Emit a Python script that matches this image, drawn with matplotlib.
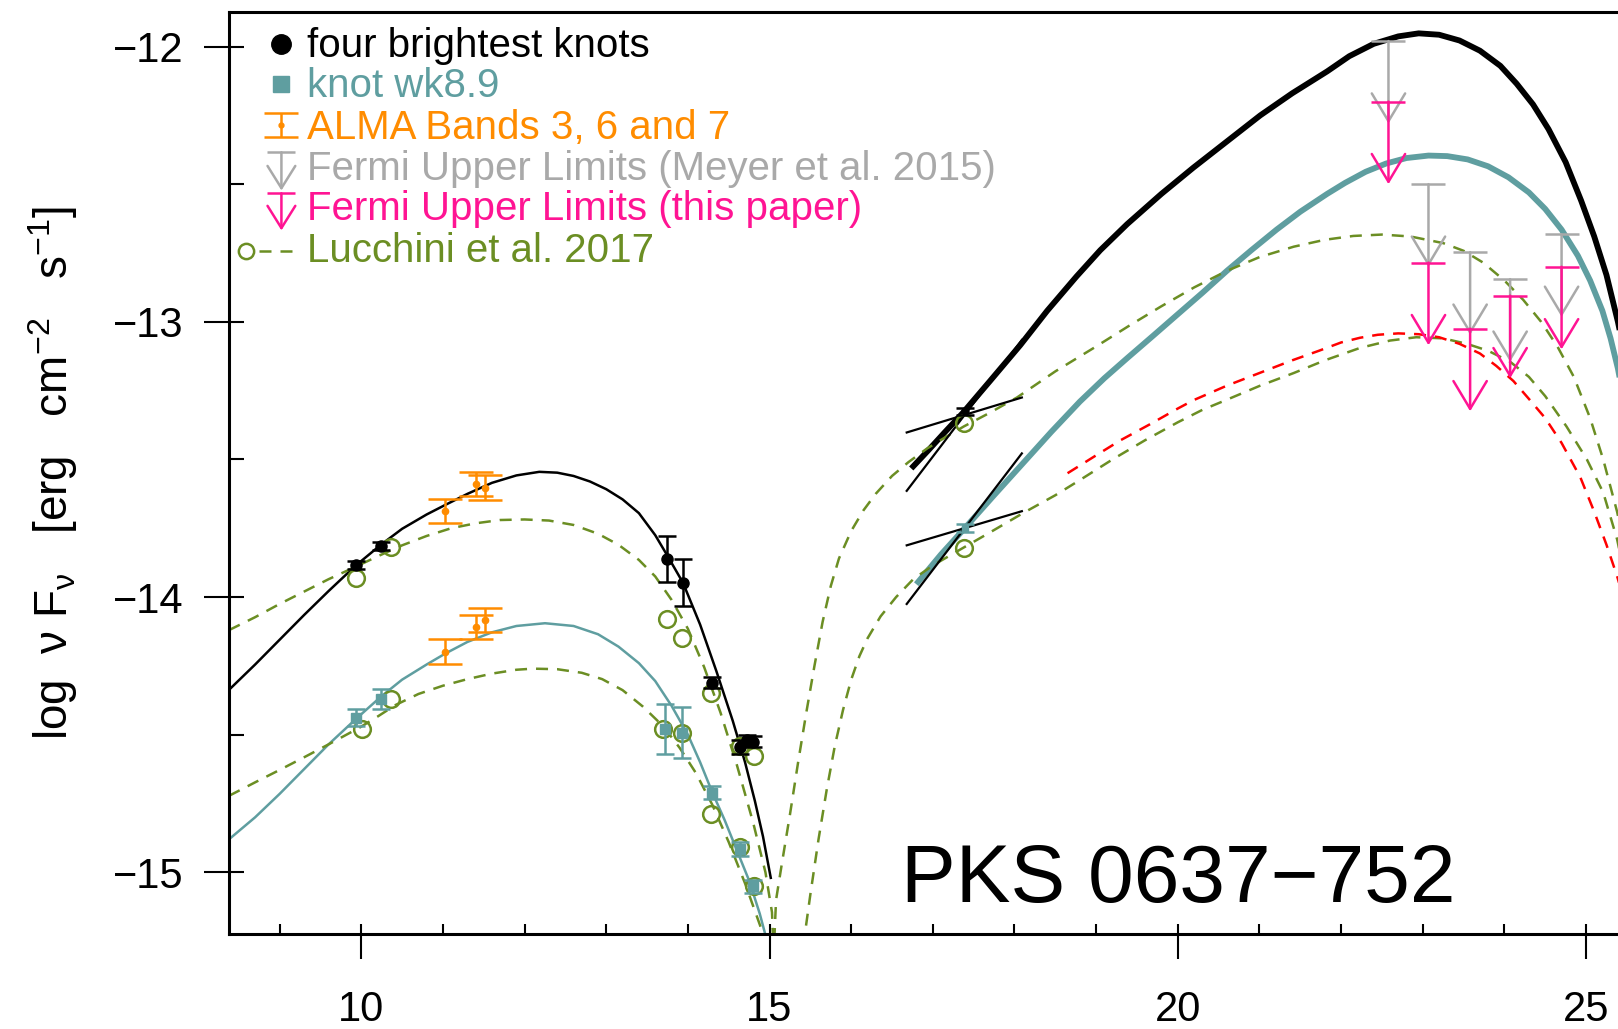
import matplotlib
matplotlib.use("Agg")
import matplotlib.pyplot as plt
from matplotlib.ticker import FixedLocator

plt.rcParams['font.family'] = ['Liberation Sans', 'DejaVu Sans']
plt.rcParams['mathtext.fontset'] = 'custom'
plt.rcParams['mathtext.rm'] = 'Liberation Sans'
plt.rcParams['mathtext.it'] = 'Liberation Sans:italic'

# colours (R names)
BLACK = 'black'
TEAL = '#5F9EA0'      # cadetblue
ORANGE = '#FF8C00'    # darkorange
GREY = '#A9A9A9'      # darkgray
PINK = '#FF1493'      # deeppink
GREEN = '#6B8E23'     # olivedrab
RED = 'red'

# ---- measured fluxes (log nu, log nuFnu) ----
knots_x = [9.93, 10.24, 13.74, 13.94, 14.29, 14.64, 14.72, 14.80]
knots_y = [-13.884, -13.815, -13.862, -13.948, -14.311, -14.545, -14.52, -14.525]
knots_err = [0.015, 0.015, 0.085, 0.086, 0.02, 0.025, 0.02, 0.02]

wk89_x = [9.93, 10.24, 13.72, 13.93, 14.29, 14.64, 14.80]
wk89_y = [-14.438, -14.369, -14.48, -14.492, -14.71, -14.915, -15.05]
wk89_err = [0.03, 0.036, 0.09, 0.093, 0.024, 0.024, 0.024]

xray_x = [17.39]
xray_knots_y = [-13.325]
xray_knots_err = [0.012]
xray_wk89_y = [-13.75]
xray_wk89_err = [0.015]

alma_x = [11.03, 11.40, 11.52]
alma_knots_y = [-13.686, -13.588, -13.602]
alma_wk89_y = [-14.198, -14.109, -14.084]
alma_err = [0.044, 0.043, 0.044]

fermi_x = [22.58, 23.07, 23.58, 24.07, 24.70]
fermi_meyer = [-11.98, -12.50, -12.747, -12.845, -12.682]
fermi_this = [-12.20, -12.785, -13.025, -12.905, -12.80]

# X-ray bowties: (x0, y0, x1, y1)
bowties = [
    (16.68, -13.402, 18.09, -13.275),
    (16.68, -13.614, 18.09, -13.066),
    (16.68, -13.812, 18.09, -13.688),
    (16.68, -14.025, 18.09, -13.478),
]

# Lucchini et al. 2017 points
luc_hi_x = [9.93, 10.37, 13.74, 13.925, 14.286, 14.637, 14.81, 17.38]
luc_hi_y = [-13.93, -13.819, -14.081, -14.148, -14.347, -14.54, -14.579, -13.368]
luc_lo_x = [10.01, 10.365, 13.69, 13.925, 14.286, 14.637, 14.81, 17.38]
luc_lo_y = [-14.478, -14.369, -14.478, -14.492, -14.788, -14.909, -15.048, -13.821]

# ---- model curves ----
sync_knots_x = [8.38, 8.7, 9.0, 9.3, 9.6, 9.93, 10.24, 10.5, 10.8, 11.03, 11.3,
                11.6, 11.9, 12.18, 12.4, 12.6, 12.8, 13.0, 13.2, 13.4, 13.6,
                13.74, 13.94, 14.15, 14.35, 14.55, 14.70, 14.82, 14.92, 15.015]
sync_knots_y = [-14.337, -14.245, -14.155, -14.065, -13.978, -13.886, -13.81,
                -13.752, -13.70, -13.665, -13.625, -13.585, -13.558, -13.545,
                -13.548, -13.56, -13.58, -13.608, -13.645, -13.695, -13.775,
                -13.845, -13.948, -14.10, -14.27, -14.45, -14.60, -14.74,
                -14.87, -15.02]

sync_wk89_x = [8.38, 8.7, 9.0, 9.3, 9.6, 9.93, 10.24, 10.5, 10.8, 11.03, 11.3,
               11.6, 11.9, 12.25, 12.6, 12.9, 13.15, 13.4, 13.6, 13.8, 14.0,
               14.15, 14.3, 14.45, 14.6, 14.75, 14.88, 14.97]
sync_wk89_y = [-14.88, -14.80, -14.715, -14.625, -14.535, -14.444, -14.362,
               -14.30, -14.245, -14.205, -14.163, -14.128, -14.105, -14.095,
               -14.105, -14.135, -14.18, -14.24, -14.305, -14.395, -14.50,
               -14.6, -14.71, -14.81, -14.92, -15.03, -15.15, -15.25]

ic_knots_x = [16.76, 16.95, 17.15, 17.37, 17.7, 18.07, 18.4, 18.76, 19.05,
              19.38, 19.8, 20.19, 20.6, 21.01, 21.4, 21.83, 22.1, 22.4, 22.7,
              22.95, 23.2, 23.45, 23.7, 23.95, 24.15, 24.35, 24.54, 24.75,
              24.94, 25.1, 25.25, 25.39, 25.6]
ic_knots_y = [-13.525, -13.465, -13.4, -13.33, -13.215, -13.085, -12.96,
              -12.835, -12.74, -12.645, -12.535, -12.44, -12.345, -12.25,
              -12.17, -12.09, -12.035, -11.99, -11.963, -11.952, -11.957,
              -11.978, -12.015, -12.07, -12.135, -12.21, -12.30, -12.42,
              -12.56, -12.69, -12.83, -13.0, -13.3]

ic_wk89_x = [16.82, 17.1, 17.39, 17.75, 18.1, 18.45, 18.8, 19.1, 19.38, 19.7,
             19.99, 20.3, 20.6, 20.9, 21.21, 21.5, 21.83, 22.05, 22.3, 22.55,
             22.8, 23.07, 23.3, 23.55, 23.8, 24.05, 24.3, 24.5, 24.7, 24.9,
             25.05, 25.2, 25.3, 25.39, 25.6]
ic_wk89_y = [-13.945, -13.845, -13.75, -13.63, -13.515, -13.4, -13.29, -13.205,
             -13.132, -13.05, -12.975, -12.895, -12.815, -12.74, -12.665, -12.6,
             -12.535, -12.495, -12.455, -12.425, -12.405, -12.396, -12.398,
             -12.41, -12.435, -12.475, -12.53, -12.59, -12.665, -12.76, -12.85,
             -12.96, -13.06, -13.17, -13.5]

luc_hi_model_x = [8.38, 8.7, 9.0, 9.3, 9.6, 9.93, 10.2, 10.5, 10.8, 11.1, 11.4,
                  11.7, 12.0, 12.3, 12.6, 12.9, 13.15, 13.4, 13.6, 13.8, 14.0,
                  14.2, 14.4, 14.6, 14.8, 14.95, 15.03, 15.05, 15.08, 15.15,
                  15.25, 15.35, 15.45, 15.55, 15.65, 15.75, 15.85, 16.0, 16.15,
                  16.3, 16.5, 16.7, 16.93, 17.15, 17.38, 17.7, 18.03, 18.5,
                  18.97, 19.4, 19.79, 20.2, 20.6, 21.0, 21.42, 21.8, 22.15,
                  22.5, 22.85, 23.25, 23.5, 23.74, 24.0, 24.23, 24.45, 24.65,
                  24.85, 25.05, 25.21, 25.38, 25.6]
luc_hi_model_y = [-14.12, -14.073, -14.025, -13.98, -13.935, -13.89, -13.852,
                  -13.812, -13.778, -13.75, -13.732, -13.72, -13.718, -13.722,
                  -13.738, -13.77, -13.81, -13.865, -13.925, -14.01, -14.115,
                  -14.255, -14.42, -14.61, -14.82, -15.0, -15.145, -15.3, -15.1,
                  -14.97, -14.79, -14.6, -14.42, -14.25, -14.09, -13.96, -13.86,
                  -13.76, -13.685, -13.625, -13.56, -13.51, -13.46, -13.42,
                  -13.38, -13.33, -13.275, -13.18, -13.095, -13.015, -12.945,
                  -12.875, -12.815, -12.765, -12.727, -12.702, -12.688, -12.683,
                  -12.69, -12.714, -12.742, -12.785, -12.85, -12.92, -13.0,
                  -13.09, -13.2, -13.35, -13.5, -13.69, -14.0]

luc_lo_model_x = [8.38, 8.7, 9.0, 9.3, 9.6, 9.98, 10.2, 10.42, 10.7, 11.0, 11.3,
                  11.6, 11.9, 12.1, 12.4, 12.7, 12.95, 13.2, 13.45, 13.7, 13.9,
                  14.1, 14.3, 14.5, 14.7, 14.9, 15.0, 15.3, 15.43, 15.5, 15.6,
                  15.7, 15.8, 15.9, 16.0, 16.1, 16.2, 16.36, 16.55, 16.76, 17.0,
                  17.29, 17.7, 18.11, 18.5, 18.8, 19.2, 19.6, 20.0, 20.3, 20.6,
                  21.0, 21.42, 21.8, 22.23, 22.6, 22.92, 23.25, 23.54, 23.8,
                  24.07, 24.3, 24.5, 24.76, 25.01, 25.21, 25.38, 25.6]
luc_lo_model_y = [-14.722, -14.673, -14.628, -14.582, -14.535, -14.474, -14.434,
                  -14.392, -14.352, -14.322, -14.298, -14.278, -14.264, -14.26,
                  -14.262, -14.275, -14.298, -14.338, -14.398, -14.47, -14.548,
                  -14.64, -14.755, -14.89, -15.04, -15.206, -15.4, -15.6, -15.23,
                  -15.08, -14.88, -14.70, -14.54, -14.41, -14.3, -14.215, -14.15,
                  -14.07, -14.0, -13.935, -13.885, -13.835, -13.765, -13.694,
                  -13.63, -13.575, -13.50, -13.43, -13.365, -13.32, -13.283,
                  -13.233, -13.186, -13.14, -13.095, -13.068, -13.056, -13.06,
                  -13.08, -13.105, -13.145, -13.2, -13.27, -13.38, -13.5, -13.62,
                  -13.79, -14.1]

red_model_x = [18.65, 19.0, 19.3, 19.66, 20.0, 20.19, 20.6, 21.0, 21.4, 21.73,
               22.0, 22.23, 22.45, 22.7, 22.95, 23.2, 23.45, 23.7, 23.9, 24.11,
               24.3, 24.5, 24.7, 24.93, 25.1, 25.25, 25.38, 25.6]
red_model_y = [-13.55, -13.485, -13.43, -13.372, -13.315, -13.285, -13.232,
               -13.186, -13.14, -13.105, -13.075, -13.058, -13.047, -13.042,
               -13.045, -13.056, -13.08, -13.115, -13.16, -13.215, -13.28,
               -13.35, -13.44, -13.565, -13.69, -13.81, -13.924, -14.15]

legend_labels = ['four brightest knots', 'knot wk8.9', 'ALMA Bands 3, 6 and 7',
                 'Fermi Upper Limits (Meyer et al. 2015)',
                 'Fermi Upper Limits (this paper)', 'Lucchini et al. 2017']
legend_colors = [BLACK, TEAL, ORANGE, GREY, PINK, GREEN]

fig = plt.figure(figsize=(16.18, 10.29), dpi=100)
ax = fig.add_axes([0.14153, 0.09232, 0.8892, 0.8956])
ax.set_xlim(8.38, 26.0)
ax.set_ylim(-15.224, -11.876)

DASH = (0, (4.8, 3.6))

# model curves
ax.plot(sync_knots_x, sync_knots_y, color=BLACK, lw=1.8, zorder=2)
ax.plot(sync_wk89_x, sync_wk89_y, color=TEAL, lw=1.8, zorder=2)
ax.plot(ic_knots_x, ic_knots_y, color=BLACK, lw=4.2, zorder=2)
ax.plot(ic_wk89_x, ic_wk89_y, color=TEAL, lw=4.2, zorder=2)
ax.plot(luc_hi_model_x, luc_hi_model_y, color=GREEN, lw=1.8, ls=DASH, zorder=2)
ax.plot(luc_lo_model_x, luc_lo_model_y, color=GREEN, lw=1.8, ls=DASH, zorder=2)
ax.plot(red_model_x, red_model_y, color=RED, lw=1.8, ls=DASH, zorder=2)

for x0, y0, x1, y1 in bowties:
    ax.plot([x0, x1], [y0, y1], color=BLACK, lw=1.6, zorder=2)

# Lucchini points
ax.plot(luc_hi_x, luc_hi_y, 'o', mfc='none', mec=GREEN, mew=1.8, ms=12, zorder=4)
ax.plot(luc_lo_x, luc_lo_y, 'o', mfc='none', mec=GREEN, mew=1.8, ms=12, zorder=4)

# data points
ax.errorbar(knots_x, knots_y, yerr=knots_err, fmt='o', color=BLACK, ms=8,
            elinewidth=1.8, capsize=6.5, capthick=1.8, zorder=5)
ax.errorbar(xray_x, xray_knots_y, yerr=xray_knots_err, fmt='o', color=BLACK, ms=5,
            elinewidth=1.8, capsize=6.5, capthick=1.8, zorder=5)
ax.errorbar(wk89_x, wk89_y, yerr=wk89_err, fmt='s', color=TEAL, ms=7,
            elinewidth=1.8, capsize=6.5, capthick=1.8, zorder=5)
ax.errorbar(xray_x, xray_wk89_y, yerr=xray_wk89_err, fmt='s', color=TEAL, ms=5,
            elinewidth=1.8, capsize=6.5, capthick=1.8, zorder=5)
ax.errorbar(alma_x, alma_knots_y, yerr=alma_err, fmt='o', color=ORANGE, ms=4.5,
            elinewidth=1.8, capsize=12.3, capthick=1.8, zorder=5)
ax.errorbar(alma_x, alma_wk89_y, yerr=alma_err, fmt='o', color=ORANGE, ms=4.5,
            elinewidth=1.8, capsize=12.3, capthick=1.8, zorder=5)


def upper_limit(x, y, color, length=0.3, cap=24, hl=20, hw=12):
    ax.plot([x], [y], marker='_', ms=cap, mew=1.8, color=color, zorder=6)
    ax.annotate('', xy=(x, y - length), xytext=(x, y),
                arrowprops=dict(arrowstyle=f'->,head_length={hl},head_width={hw}',
                                color=color, lw=1.8, shrinkA=0, shrinkB=0,
                                mutation_scale=1), zorder=6)


for x, y in zip(fermi_x, fermi_meyer):
    upper_limit(x, y, GREY)
for x, y in zip(fermi_x, fermi_this):
    upper_limit(x, y, PINK)

# legend, drawn by hand
lx, tx = 9.022, 9.336
base = [-12.038, -12.183, -12.336, -12.485, -12.63, -12.781]
ax.plot([lx], [-11.992], 'o', color=BLACK, ms=14)
ax.plot([lx], [-12.137], 's', color=TEAL, ms=11)
ax.errorbar([lx], [-12.285], yerr=[0.045], fmt='o', color=ORANGE, ms=3.5,
            elinewidth=1.8, capsize=12.3, capthick=1.8)
upper_limit(lx, -12.384, GREY, length=0.139, cap=20, hl=16, hw=10)
upper_limit(lx, -12.533, PINK, length=0.135, cap=20, hl=16, hw=10)
ax.plot([8.593], [-12.741], 'o', mfc='none', mec=GREEN, mew=1.8, ms=11)
ax.plot([8.746, 9.183], [-12.741, -12.741], color=GREEN, lw=1.8, ls=DASH)
for lab, col, b in zip(legend_labels, legend_colors, base):
    ax.text(tx, b, lab, color=col, fontsize=29, ha='left', va='baseline')

ax.text(20.0, -15.108, 'PKS 0637\u2212752', fontsize=59, ha='center', va='baseline')

# axes styling
for s in ax.spines.values():
    s.set_linewidth(2.2)
ax.xaxis.set_major_locator(FixedLocator([10, 15, 20, 25]))
ax.xaxis.set_minor_locator(FixedLocator(list(range(9, 27))))
ax.yaxis.set_major_locator(FixedLocator([-15, -14, -13, -12]))
ax.yaxis.set_minor_locator(FixedLocator([-15.0, -14.5, -14.0, -13.5, -13.0, -12.5, -12.0]))
ax.xaxis.remove_overlapping_locs = False
ax.yaxis.remove_overlapping_locs = False
ax.tick_params(which='major', direction='out', length=18, width=1.5, labelsize=30)
ax.tick_params(axis='x', which='major', pad=22)
ax.tick_params(axis='y', which='major', pad=15)
ax.tick_params(axis='x', which='minor', direction='in', length=7.5, width=1.5)
ax.tick_params(axis='y', which='minor', direction='in', length=11, width=1.5)
ax.tick_params(top=False, right=False, which='both')

fig.text(53 / 1618, 1 - 473 / 1029,
         'log  \u03bd F$_{\\mathregular{\u03bd}}$   [erg   cm$^{\\mathregular{-2}}$   s$^{\\mathregular{-1}}$]',
         rotation=90, ha='center', va='center', fontsize=33)

fig.savefig('out.png', dpi=100)
